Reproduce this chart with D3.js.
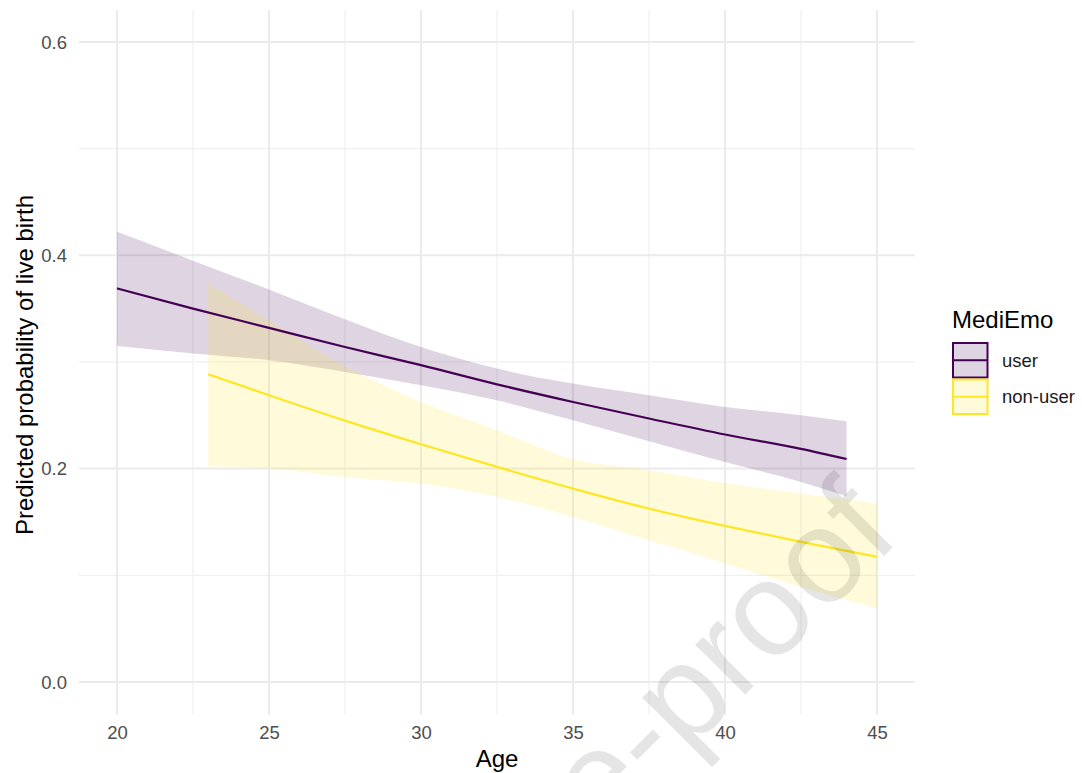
<!DOCTYPE html>
<html>
<head>
<meta charset="utf-8">
<script src="https://cdn.jsdelivr.net/npm/d3@7"></script>
<style>
  body { margin: 0; background: #fff; }
  text { font-family: "Liberation Sans", Arial, sans-serif; }
</style>
</head>
<body>
<svg id="chart" width="1082" height="773"></svg>
<script>

// predicted probability of live birth by age

var userAge  = [20, 22.5, 25, 27.5, 30, 32.5, 35, 37.5, 40, 42.5, 44];
var userFit  = [0.369, 0.350, 0.332, 0.314, 0.297, 0.279, 0.2625, 0.247, 0.232, 0.2185, 0.209];
var userLow  = [0.315, 0.308, 0.3016, 0.2906, 0.2782, 0.2641, 0.2453, 0.2257, 0.2063, 0.1875, 0.1741];
var userHigh = [0.422, 0.395, 0.368, 0.340, 0.314, 0.2938, 0.2797, 0.2688, 0.2578, 0.250, 0.2444];

var nonAge  = [23, 25, 27.5, 30, 32.5, 35, 37.5, 40, 42.5, 45];
var nonFit  = [0.2885, 0.2688, 0.245, 0.2228, 0.2016, 0.1813, 0.1625, 0.1463, 0.1313, 0.1172];
var nonLow  = [0.2022, 0.200, 0.192, 0.186, 0.1735, 0.1547, 0.1328, 0.111, 0.089, 0.0688];
var nonHigh = [0.374, 0.339, 0.296, 0.2625, 0.236, 0.209, 0.1985, 0.1866, 0.1766, 0.1672];

var xTicks      = [20, 25, 30, 35, 40, 45];
var xMinorTicks = [22.5, 27.5, 32.5, 37.5, 42.5];
var yTicks      = [0, 0.2, 0.4, 0.6];
var yMinorTicks = [0.1, 0.3, 0.5];

var groups      = ["user", "non-user"];
var groupColors = ["#440154", "#FDE725"];

function makeRows(age, fit, low, high) {
    var out = [];
    for (var kk = 0; kk < age.length; kk++) {
	out.push({age: age[kk], fit: fit[kk], low: low[kk], high: high[kk]});
    }
    return out;
}

function plot() {

    var svg = d3.select("#chart");

    var left = 79, right = 915, top = 10, bottom = 715;

    var xScale = d3.scaleLinear().domain([18.75, 46.25]).range([left, right]);
    var yScale = d3.scaleLinear().domain([-0.031, 0.63]).range([bottom, top]);

    // grid
    var grid = svg.append("g");
    grid.selectAll(".xminor").data(xMinorTicks).enter().append("line")
	.attr("x1", function(d) { return xScale(d); })
	.attr("x2", function(d) { return xScale(d); })
	.attr("y1", top).attr("y2", bottom)
	.attr("stroke", "#f0f0f0").attr("stroke-width", 1.2);
    grid.selectAll(".yminor").data(yMinorTicks).enter().append("line")
	.attr("y1", function(d) { return yScale(d); })
	.attr("y2", function(d) { return yScale(d); })
	.attr("x1", left).attr("x2", right)
	.attr("stroke", "#f0f0f0").attr("stroke-width", 1.2);
    grid.selectAll(".xmajor").data(xTicks).enter().append("line")
	.attr("x1", function(d) { return xScale(d); })
	.attr("x2", function(d) { return xScale(d); })
	.attr("y1", top).attr("y2", bottom)
	.attr("stroke", "#ebebeb").attr("stroke-width", 2);
    grid.selectAll(".ymajor").data(yTicks).enter().append("line")
	.attr("y1", function(d) { return yScale(d); })
	.attr("y2", function(d) { return yScale(d); })
	.attr("x1", left).attr("x2", right)
	.attr("stroke", "#ebebeb").attr("stroke-width", 2);

    // axis labels via d3 axes, then strip the domain/tick lines
    var xAxis = d3.axisBottom(xScale).tickValues(xTicks).tickSize(0).tickPadding(0);
    var gx = svg.append("g").attr("transform", "translate(0,725)").call(xAxis);
    gx.select(".domain").remove();
    gx.selectAll("text")
	.attr("dy", null).attr("y", 14)
	.style("font-size", "18.5px")
	.style("font-family", "'Liberation Sans', Arial, sans-serif")
	.attr("fill", "#4d4d4d");

    var yAxis = d3.axisLeft(yScale).tickValues(yTicks).tickSize(0).tickPadding(0)
	.tickFormat(d3.format(".1f"));
    var gy = svg.append("g").attr("transform", "translate(67,0)").call(yAxis);
    gy.select(".domain").remove();
    gy.selectAll("text")
	.attr("dy", "0.34em")
	.style("font-size", "18.5px")
	.style("font-family", "'Liberation Sans', Arial, sans-serif")
	.attr("fill", "#4d4d4d");

    var rows = [makeRows(userAge, userFit, userLow, userHigh),
		makeRows(nonAge, nonFit, nonLow, nonHigh)];

    var area = d3.area()
	.x(function(d) { return xScale(d.age); })
	.y0(function(d) { return yScale(d.low); })
	.y1(function(d) { return yScale(d.high); })
	.curve(d3.curveMonotoneX);

    var line = d3.line()
	.x(function(d) { return xScale(d.age); })
	.y(function(d) { return yScale(d.fit); })
	.curve(d3.curveMonotoneX);

    for (var kk = 0; kk < rows.length; kk++) {
	svg.append("path")
	    .datum(rows[kk])
	    .attr("d", area)
	    .attr("fill", groupColors[kk])
	    .attr("fill-opacity", 0.17);
    }
    for (var kk = 0; kk < rows.length; kk++) {
	svg.append("path")
	    .datum(rows[kk])
	    .attr("d", line)
	    .attr("fill", "none")
	    .attr("stroke", groupColors[kk])
	    .attr("stroke-width", 2.2);
    }

    // axis titles
    svg.append("text")
	.attr("x", (left + right) / 2).attr("y", 767)
	.attr("text-anchor", "middle")
	.style("font-size", "24px")
	.attr("fill", "#000")
	.text("Age");

    svg.append("text")
	.attr("transform", "translate(33,365) rotate(-90)")
	.attr("text-anchor", "middle")
	.style("font-size", "24px")
	.attr("fill", "#000")
	.text("Predicted probability of live birth");

    // legend
    var lg = svg.append("g").attr("transform", "translate(952,0)");
    lg.append("text")
	.attr("x", 0).attr("y", 328)
	.style("font-size", "24px")
	.attr("fill", "#000")
	.text("MediEmo");

    var keySize = 36.5;
    var key = lg.selectAll(".key").data(groups).enter().append("g")
	.attr("transform", function(d, i) { return "translate(0," + (342 + i * keySize) + ")"; });
    key.append("rect")
	.attr("x", 1).attr("y", 1)
	.attr("width", keySize - 2).attr("height", keySize - 2)
	.attr("fill", function(d, i) { return groupColors[i]; })
	.attr("fill-opacity", 0.17)
	.attr("stroke", function(d, i) { return groupColors[i]; })
	.attr("stroke-width", 2);
    key.append("line")
	.attr("x1", 1).attr("x2", keySize - 1)
	.attr("y1", keySize / 2).attr("y2", keySize / 2)
	.attr("stroke", function(d, i) { return groupColors[i]; })
	.attr("stroke-width", 2.2);
    key.append("text")
	.attr("x", 50).attr("y", keySize / 2)
	.attr("dy", "0.35em")
	.style("font-size", "18.5px")
	.attr("fill", "#1a1a1a")
	.text(function(d) { return d; });

    // journal watermark (runs off the bottom edge, as in the source)
    svg.append("text")
	.attr("transform", "translate(902,538) rotate(-45)")
	.attr("text-anchor", "end")
	.style("font-size", "134px")
	.attr("fill", "#000")
	.attr("fill-opacity", 0.1)
	.text("Journal Pre-proof");
}

plot();

</script>
</body>
</html>
